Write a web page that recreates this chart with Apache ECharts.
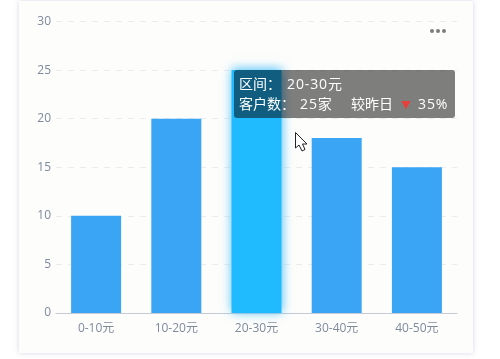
<!DOCTYPE html>
<html>
<head>
<meta charset="utf-8">
<style>
html, body { margin: 0; padding: 0; background: #fff; overflow: hidden; }
#card { position: absolute; left: 19px; top: 1px; width: 454px; height: 352px; background: #fdfdfb; box-shadow: 0 0 5px rgba(150,155,190,0.4); }
#chart { position: absolute; left: 0; top: 0; width: 500px; height: 359px; }
.tip { font-family: "Open Sans", "Noto Sans CJK SC", sans-serif; font-size: 14px; line-height: 20px; color: #fff; white-space: nowrap; }
.tip span { display: inline-block; }
.tip .num { letter-spacing: 0.9px; }
</style>
</head>
<body>
<div id="card"></div>
<div id="chart"></div>
<script src="https://cdn.jsdelivr.net/npm/echarts@6/dist/echarts.min.js"></script>
<script>
// 차트 데이터
var categories = ['0-10元', '10-20元', '20-30元', '30-40元', '40-50元'];
var customerCount = [10, 20, 25, 18, 15];
var yTicks = [0, 5, 10, 15, 20, 25, 30];
var changeRate = '35%';
var activeIndex = 2;

var chart = echarts.init(document.getElementById('chart'));

var option = {
	animation: false,
	textStyle: { fontFamily: '"Open Sans", "Noto Sans CJK SC", sans-serif' },
	grid: { left: 56, right: 43, top: 21.5, bottom: 46 },
	tooltip: {
		trigger: 'item',
		transitionDuration: 0,
		backgroundColor: 'rgba(0,0,0,0.5)',
		borderWidth: 0,
		borderRadius: 3,
		padding: [4, 5],
		extraCssText: 'box-shadow:none;width:211px;height:40px;',
		position: function() { return [234, 70]; },
		formatter: function(p) {
			return '<div class="tip">'
				+ '<div><span style="width:48px">区间：</span><span class="num">' + p.name + '</span></div>'
				+ '<div><span style="width:61px">客户数：</span><span class="num" style="width:51px">' + p.value + '家</span>'
				+ '<span style="width:50px">较昨日</span>'
				+ '<span style="width:17px;color:#e5413a;font-size:10px">▼</span>'
				+ '<span class="num">' + changeRate + '</span></div>'
				+ '</div>';
		}
	},
	xAxis: {
		type: 'category',
		data: categories,
		axisLine: { lineStyle: { color: '#c6c9d6' } },
		axisTick: { length: 3, lineStyle: { color: '#d8dae2' } },
		axisLabel: { color: '#7f8a9c', fontSize: 12, margin: 10 }
	},
	yAxis: {
		type: 'value',
		min: yTicks[0],
		max: yTicks[yTicks.length - 1],
		interval: yTicks[1] - yTicks[0],
		axisLine: { show: false },
		axisTick: { show: false },
		axisLabel: { color: '#7f8a9c', fontSize: 12, margin: 5 },
		splitLine: { lineStyle: { color: '#ebecee', type: [6, 6] } }
	},
	series: [{
		type: 'bar',
		data: customerCount,
		barWidth: 50,
		itemStyle: { color: '#3ba5f5' },
		emphasis: {
			itemStyle: {
				color: '#20baff',
				borderWidth: 0,
				shadowColor: 'rgba(70,190,250,1)',
				shadowBlur: 10,
				shadowOffsetY: -1
			}
		}
	}],
	graphic: [
		// 더보기 버튼
		{ type: 'circle', shape: { cx: 432, cy: 31, r: 2 }, style: { fill: '#7d7d7d' } },
		{ type: 'circle', shape: { cx: 438, cy: 31, r: 2 }, style: { fill: '#7d7d7d' } },
		{ type: 'circle', shape: { cx: 444, cy: 31, r: 2 }, style: { fill: '#7d7d7d' } },
		// 마우스 커서
		{
			type: 'polygon',
			z: 100,
			shape: { points: [[295.5, 132.5], [295.5, 148], [299, 145], [302, 151], [305, 149.5], [302.5, 144], [307, 144]] },
			style: { fill: '#fff', stroke: '#222', lineWidth: 1 }
		}
	]
};

chart.setOption(option);
chart.dispatchAction({ type: 'highlight', seriesIndex: 0, dataIndex: activeIndex });
chart.dispatchAction({ type: 'showTip', seriesIndex: 0, dataIndex: activeIndex });
</script>
</body>
</html>
